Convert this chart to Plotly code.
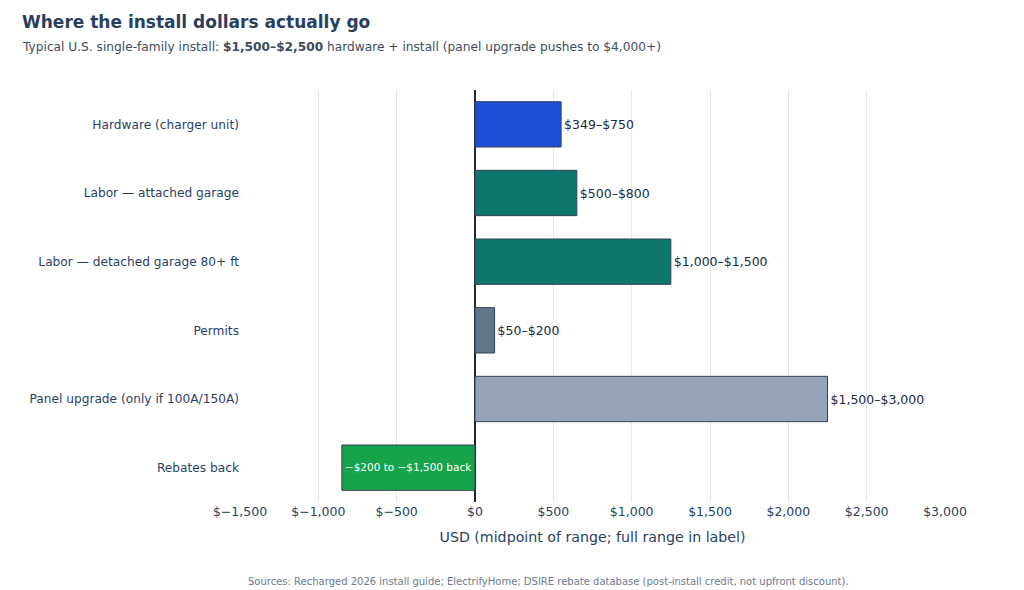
import plotly.graph_objects as go

categories = [
    "Hardware (charger unit)",
    "Labor — attached garage",
    "Labor — detached garage 80+ ft",
    "Permits",
    "Panel upgrade (only if 100A/150A)",
    "Rebates back",
]
midpoints = [549.5, 650, 1250, 125, 2250, -850]
range_labels = ["$349–$750", "$500–$800", "$1,000–$1,500", "$50–$200", "$1,500–$3,000", "−$200 to −$1,500 back"]
bar_colors = ["#1d4ed8", "#0f766e", "#0f766e", "#64748b", "#94a3b8", "#16a34a"]
text_pos = ["outside", "outside", "outside", "outside", "outside", "inside"]
text_colors = ["#1e293b", "#1e293b", "#1e293b", "#1e293b", "#1e293b", "#ffffff"]
tick_vals = [-1500, -1000, -500, 0, 500, 1000, 1500, 2000, 2500, 3000]
tick_text = ["$−1,500", "$−1,000", "$−500", "$0", "$500", "$1,000", "$1,500", "$2,000", "$2,500", "$3,000"]

FONT = "Verdana, DejaVu Sans, sans-serif"

fig = go.Figure(go.Bar(
    y=categories,
    x=midpoints,
    orientation="h",
    marker=dict(color=bar_colors, line=dict(color="#334155", width=1)),
    text=range_labels,
    textposition=text_pos,
    textfont=dict(size=12.5, color=text_colors, family=FONT),
    insidetextanchor="middle",
    cliponaxis=False,
    hoverinfo="skip",
))

fig.update_layout(
    width=1024, height=590,
    margin=dict(l=240, r=79, t=90, b=88),
    paper_bgcolor="white", plot_bgcolor="white",
    font=dict(family=FONT, color="#2a3f5f"),
    bargap=0.34,
    showlegend=False,
    xaxis=dict(
        range=[-1500, 3000],
        tickvals=tick_vals, ticktext=tick_text,
        tickfont=dict(size=12.5, color="#2a3f5f"),
        showgrid=True, gridcolor="#e5e7eb", gridwidth=1,
        zeroline=True, zerolinecolor="#1e293b", zerolinewidth=1.5,
        showline=False,
        title=dict(text="USD (midpoint of range; full range in label)", font=dict(size=14.2, color="#2a3f5f"), standoff=14),
    ),
    yaxis=dict(
        autorange="reversed",
        tickfont=dict(size=12.2, color="#2a3f5f"),
        showgrid=False, zeroline=False, showline=False,
        ticks="", ticklabelstandoff=0,
    ),
    annotations=[
        dict(
            text="<b>Where the install dollars actually go</b>",
            xref="paper", yref="paper", x=-0.312, y=1.165, xanchor="left", yanchor="middle",
            showarrow=False, font=dict(size=17, color="#2a3f5f", family=FONT),
        ),
        dict(
            text="Typical U.S. single-family install: <b>$1,500–$2,500</b> hardware + install (panel upgrade pushes to $4,000+)",
            xref="paper", yref="paper", x=-0.312, y=1.104, xanchor="left", yanchor="middle",
            showarrow=False, font=dict(size=12.2, color="#3e4c5e", family=FONT),
        ),
        dict(
            text="Sources: Recharged 2026 install guide; ElectrifyHome; DSIRE rebate database (post-install credit, not upfront discount).",
            xref="paper", yref="paper", x=0.438, y=-0.192, xanchor="center", yanchor="middle",
            showarrow=False, font=dict(size=10, color="#6b7a90", family=FONT),
        ),
    ],
)

fig.write_html("out.html")
